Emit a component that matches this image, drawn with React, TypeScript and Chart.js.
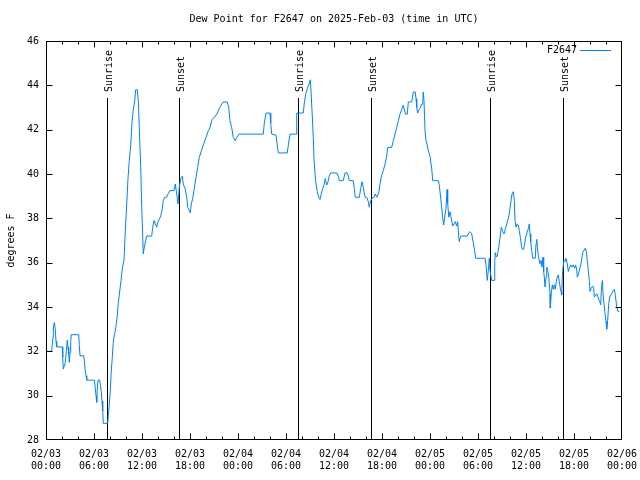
import React, { useEffect, useRef } from "react";
import { Chart, registerables } from "chart.js";

Chart.register(...registerables);

// Time in hours since 2025-02-03 00:00 UTC
const hours: number[] = [
  0, 0.71, 0.75, 0.88, 0.92, 1.04, 1.16, 1.25, 1.34, 2.04,
  2.09, 2.16, 2.25, 2.41, 2.54, 2.66, 2.75, 2.84, 2.91, 3.0,
  3.09, 3.16, 4.09, 4.16, 4.25, 4.71, 4.79, 4.88, 5.0, 5.09,
  6.04, 6.13, 6.25, 6.34, 6.41, 6.5, 6.71, 6.79, 6.91, 7.0,
  7.09, 7.16, 7.71, 7.79, 7.91, 8.04, 8.16, 8.29, 8.41, 8.54,
  8.66, 8.79, 8.91, 9.04, 9.38, 9.56, 9.75, 9.91, 10.09, 10.25,
  10.41, 10.59, 10.75, 10.91, 11.09, 11.21, 11.41, 11.54, 11.66, 11.84,
  11.96, 12.09, 12.16, 12.29, 12.46, 12.59, 13.21, 13.34, 13.5, 13.66,
  13.84, 13.96, 14.16, 14.34, 14.5, 14.66, 14.84, 15.09, 15.25, 15.5,
  16.0, 16.16, 16.34, 16.5, 16.66, 16.84, 17.04, 17.16, 17.38, 17.59,
  17.71, 17.91, 18.04, 18.16, 18.34, 18.54, 18.75, 18.96, 19.16, 19.38,
  19.66, 20.0, 20.29, 20.5, 20.75, 21.13, 21.34, 21.66, 21.88, 22.16,
  22.66, 22.84, 23.0, 23.21, 23.41, 23.63, 23.84, 24.13, 27.16, 27.29,
  27.5, 28.0, 28.09, 28.21, 28.75, 28.91, 29.04, 30.16, 30.29, 30.5,
  31.25, 31.34, 32.16, 32.29, 32.46, 32.66, 32.88, 33.04, 33.13, 33.29,
  33.41, 33.5, 33.63, 33.75, 33.91, 34.09, 34.25, 34.41, 34.59, 34.75,
  34.91, 35.09, 35.25, 35.41, 35.59, 36.34, 36.54, 36.66, 37.16, 37.38,
  37.66, 37.79, 37.91, 38.41, 38.54, 38.66, 39.16, 39.34, 39.5, 39.66,
  39.88, 40.09, 40.29, 40.41, 40.59, 40.75, 41.0, 41.16, 41.34, 41.59,
  41.75, 41.96, 42.16, 42.38, 42.59, 42.71, 43.21, 43.41, 43.63, 43.84,
  44.04, 44.25, 44.46, 44.66, 44.79, 44.96, 45.16, 45.29, 45.71, 45.91,
  46.16, 46.25, 46.34, 46.46, 46.59, 46.75, 46.96, 47.09, 47.16, 47.25,
  47.38, 47.5, 47.66, 47.79, 48.0, 48.21, 48.34, 49.04, 49.16, 49.34,
  49.46, 49.59, 49.71, 49.88, 50.0, 50.13, 50.21, 50.34, 50.5, 50.63,
  50.84, 51.0, 51.16, 51.34, 51.46, 51.59, 51.66, 51.84, 52.66, 52.84,
  53.0, 53.21, 53.41, 53.59, 53.71, 54.88, 55.0, 55.16, 55.29, 55.41,
  55.5, 55.71, 56.0, 56.09, 56.16, 56.29, 56.41, 56.59, 56.75, 56.91,
  57.09, 57.25, 57.41, 57.59, 57.75, 57.91, 58.09, 58.25, 58.41, 58.54,
  58.63, 58.75, 58.88, 59.04, 59.16, 59.29, 59.41, 59.54, 59.71, 59.84,
  59.96, 60.09, 60.21, 60.34, 60.41, 60.5, 60.59, 60.71, 60.84, 61.16,
  61.25, 61.34, 61.41, 61.54, 61.66, 61.75, 61.88, 62.0, 62.13, 62.21,
  62.29, 62.38, 62.5, 62.59, 62.71, 62.84, 62.91, 63.0, 63.04, 63.16,
  63.29, 63.41, 63.54, 63.66, 63.79, 63.91, 64.04, 64.16, 64.29, 64.38,
  64.46, 64.54, 64.63, 64.75, 64.88, 65.0, 65.16, 65.29, 65.41, 65.59,
  65.75, 65.91, 66.09, 66.21, 66.34, 66.41, 66.54, 66.66, 66.84, 66.96,
  67.09, 67.25, 67.41, 67.54, 67.66, 67.79, 67.91, 68.0, 68.16, 68.34,
  68.46, 68.54, 68.66, 68.84, 68.96, 69.09, 69.21, 69.34, 69.41, 69.54,
  69.63, 69.75, 69.88, 70.0, 70.09, 70.21, 70.34, 70.46, 70.63, 70.79,
  70.91, 71.04, 71.16, 71.34, 71.5, 71.66,
];

// Dew point, degrees F
const dewPointF: number[] = [
  32.0, 32.0, 32.2, 32.65, 33.05, 33.3, 33.0, 32.45, 32.2, 32.2,
  31.75, 31.2, 31.3, 31.5, 32.0, 32.5, 32.2, 31.85, 31.5, 31.95,
  32.45, 32.75, 32.75, 32.3, 31.8, 31.8, 31.6, 31.2, 30.9, 30.7,
  30.7, 30.45, 30.0, 29.7, 30.3, 30.7, 30.7, 30.5, 30.2, 29.75,
  29.3, 28.75, 28.75, 29.1, 29.6, 30.25, 31.1, 31.75, 32.4, 32.75,
  32.9, 33.25, 33.6, 34.2, 35.2, 35.8, 36.1, 37.4, 38.65, 39.8,
  40.6, 41.3, 42.35, 42.9, 43.3, 43.8, 43.8, 43.3, 42.1, 40.3,
  38.6, 37.15, 36.4, 36.7, 37.0, 37.2, 37.2, 37.6, 37.9, 37.75,
  37.6, 37.8, 37.95, 38.1, 38.35, 38.8, 38.95, 38.95, 39.1, 39.25,
  39.25, 39.55, 39.1, 38.65, 39.4, 39.8, 39.9, 39.55, 39.35, 38.95,
  38.5, 38.35, 38.25, 38.65, 38.9, 39.35, 39.85, 40.3, 40.75, 41.0,
  41.3, 41.65, 41.95, 42.1, 42.45, 42.6, 42.7, 42.95, 43.1, 43.25,
  43.25, 43.0, 42.4, 42.1, 41.65, 41.5, 41.65, 41.8, 41.8, 42.3,
  42.75, 42.75, 42.3, 41.8, 41.75, 41.3, 40.95, 40.95, 41.3, 41.8,
  41.8, 42.75, 42.75, 43.2, 43.6, 43.85, 44.05, 44.25, 43.7, 42.6,
  41.65, 40.7, 40.0, 39.55, 39.2, 38.95, 38.85, 39.1, 39.35, 39.5,
  39.8, 39.5, 39.65, 39.9, 40.05, 40.05, 39.9, 39.7, 39.7, 40.05,
  40.05, 39.9, 39.7, 39.7, 39.35, 38.95, 38.95, 39.35, 39.65, 39.4,
  38.95, 38.95, 38.75, 38.5, 38.8, 38.9, 38.95, 39.1, 38.95, 39.15,
  39.55, 39.95, 40.15, 40.45, 40.8, 41.2, 41.2, 41.5, 41.8, 42.1,
  42.4, 42.7, 42.9, 43.1, 42.9, 42.7, 42.7, 43.25, 43.25, 43.7,
  43.7, 43.4, 43.0, 42.75, 42.9, 42.95, 43.15, 43.15, 43.7, 43.3,
  41.95, 41.5, 41.3, 41.05, 40.8, 40.25, 39.7, 39.7, 39.5, 38.9,
  38.5, 38.0, 37.7, 38.15, 38.45, 39.3, 38.7, 38.05, 38.3, 38.05,
  37.65, 37.75, 37.85, 37.65, 37.85, 37.15, 36.95, 37.2, 37.2, 37.35,
  37.4, 37.3, 36.9, 36.5, 36.2, 36.2, 35.9, 35.2, 35.65, 36.2,
  35.65, 35.2, 35.2, 36.05, 36.45, 36.25, 36.3, 36.7, 37.1, 37.6,
  37.4, 37.3, 37.5, 37.75, 37.95, 38.2, 38.7, 39.1, 39.2, 38.8,
  37.9, 37.6, 37.75, 37.7, 37.45, 37.15, 36.8, 36.6, 36.6, 36.85,
  37.15, 37.3, 37.45, 37.6, 37.75, 37.3, 36.95, 36.55, 36.2, 36.2,
  36.85, 37.05, 36.75, 36.3, 36.1, 35.95, 36.1, 35.8, 36.25, 35.6,
  35.35, 34.9, 35.35, 35.8, 35.65, 35.35, 35.05, 34.6, 33.95, 34.6,
  35.0, 34.8, 35.0, 34.8, 35.15, 35.35, 35.45, 35.15, 34.85, 34.7,
  34.55, 35.35, 35.8, 36.1, 36.05, 36.2, 35.95, 35.6, 35.75, 35.9,
  35.8, 35.9, 35.75, 35.9, 35.65, 35.35, 35.45, 35.65, 35.9, 36.15,
  36.45, 36.55, 36.65, 36.5, 36.1, 35.65, 35.2, 34.7, 34.85, 34.95,
  34.85, 34.45, 34.5, 34.6, 34.5, 34.35, 34.25, 34.1, 34.7, 35.2,
  34.6, 34.15, 33.7, 33.35, 33.0, 33.4, 34.15, 34.45, 34.55, 34.65,
  34.75, 34.8, 34.55, 34.0, 33.8, 33.8,
];

// Sunrise / sunset markers (hours since start)
const eventHours: number[] = [7.62, 16.66, 31.54, 40.66, 55.54, 64.66];
const eventLabels: string[] = ["Sunrise", "Sunset", "Sunrise", "Sunset", "Sunrise", "Sunset"];

// X tick labels every 6 hours
const xTickLabels: string[][] = [
  ["02/03", "00:00"], ["02/03", "06:00"], ["02/03", "12:00"], ["02/03", "18:00"],
  ["02/04", "00:00"], ["02/04", "06:00"], ["02/04", "12:00"], ["02/04", "18:00"],
  ["02/05", "00:00"], ["02/05", "06:00"], ["02/05", "12:00"], ["02/05", "18:00"],
  ["02/06", "00:00"],
];

const titleText = "Dew Point for F2647 on 2025-Feb-03 (time in UTC)";
const seriesName = "F2647";
const yTitle = "degrees F";

const FONT = "'DejaVu Sans Mono', 'Liberation Mono', monospace";
const LINE_COLOR = "rgb(0,128,255)";

const decorPlugin = {
  id: "gnuplotDecor",
  beforeDatasetsDraw(chart: any) {
    const { ctx, chartArea, scales } = chart;
    const { top, bottom } = chartArea;
    const h = bottom - top;
    ctx.save();
    ctx.strokeStyle = "#000";
    ctx.lineWidth = 1;
    ctx.fillStyle = "#000";
    ctx.font = `10px ${FONT}`;
    eventHours.forEach((eh, i) => {
      const px = Math.round(scales.x.getPixelForValue(eh)) + 0.5;
      const lineTop = Math.round(bottom - 0.857 * h);
      ctx.beginPath();
      ctx.moveTo(px, lineTop);
      ctx.lineTo(px, bottom);
      ctx.stroke();
      ctx.save();
      ctx.translate(px + 1.5, bottom - 0.872 * h);
      ctx.rotate(-Math.PI / 2);
      ctx.textAlign = "left";
      ctx.textBaseline = "middle";
      ctx.fillText(eventLabels[i], 0, 0);
      ctx.restore();
    });
    ctx.restore();
  },
  afterDraw(chart: any) {
    const { ctx, chartArea, scales } = chart;
    const { left, right, top, bottom } = chartArea;
    const L = Math.round(left) + 0.5;
    const R = Math.round(right) - 0.5;
    const T = Math.round(top) + 0.5;
    const B = Math.round(bottom) - 0.5;
    ctx.save();
    ctx.strokeStyle = "#000";
    ctx.lineWidth = 1;
    ctx.beginPath();
    // x ticks (major every 6h, minor every 2h), inward, bottom and top
    const xs = scales.x;
    for (let t = xs.min; t <= xs.max; t += 2) {
      const len = t % 6 === 0 ? 6 : 3;
      const px = Math.min(R, Math.max(L, Math.round(xs.getPixelForValue(t)) + 0.5));
      ctx.moveTo(px, B);
      ctx.lineTo(px, B - len);
      ctx.moveTo(px, T);
      ctx.lineTo(px, T + len);
    }
    // y ticks inward, left and right
    const ys = scales.y;
    for (let v = ys.min; v <= ys.max; v += 2) {
      const py = Math.min(B, Math.max(T, Math.round(ys.getPixelForValue(v)) + 0.5));
      ctx.moveTo(L, py);
      ctx.lineTo(L + 6, py);
      ctx.moveTo(R, py);
      ctx.lineTo(R - 6, py);
    }
    ctx.stroke();
    ctx.strokeRect(L, T, R - L, B - T);

    // title
    ctx.fillStyle = "#000";
    ctx.font = `10px ${FONT}`;
    ctx.textAlign = "center";
    ctx.textBaseline = "middle";
    ctx.fillText(titleText, (left + right) / 2, 19);

    // legend
    ctx.textAlign = "right";
    ctx.fillText(seriesName, right - 45, top + 9);
    ctx.strokeStyle = LINE_COLOR;
    ctx.beginPath();
    ctx.moveTo(right - 42, Math.round(top + 9) + 0.5);
    ctx.lineTo(right - 11, Math.round(top + 9) + 0.5);
    ctx.stroke();
    ctx.restore();
  },
};

export default function App() {
  const canvasRef = useRef<HTMLCanvasElement | null>(null);

  useEffect(() => {
    if (!canvasRef.current) return;
    const points = hours.map((h, i) => ({ x: h, y: dewPointF[i] }));
    const chart = new Chart(canvasRef.current, {
      type: "line",
      data: {
        datasets: [
          {
            label: seriesName,
            data: points,
            borderColor: LINE_COLOR,
            backgroundColor: LINE_COLOR,
            borderWidth: 1,
            pointRadius: 0,
            tension: 0,
            fill: false,
          },
        ],
      },
      options: {
        responsive: false,
        animation: false,
        maintainAspectRatio: false,
        layout: { padding: { top: 41, right: 18, left: 0, bottom: 0 } },
        plugins: {
          legend: { display: false },
          title: { display: false },
          tooltip: { enabled: false },
        },
        scales: {
          x: {
            type: "linear",
            min: 0,
            max: 72,
            grid: { display: false, drawTicks: false },
            border: { display: false },
            afterFit: (s: any) => {
              s.height = 40;
              s.paddingLeft = 0;
              s.paddingRight = 0;
            },
            ticks: {
              stepSize: 6,
              autoSkip: false,
              maxRotation: 0,
              minRotation: 0,
              padding: 8,
              color: "#000",
              font: { family: FONT, size: 10, lineHeight: 1.2 },
              callback: (value: any) => {
                const idx = Math.round(Number(value) / 6);
                return xTickLabels[idx] ?? "";
              },
            },
          },
          y: {
            type: "linear",
            min: 28,
            max: 46,
            grid: { display: false, drawTicks: false },
            border: { display: false },
            afterFit: (s: any) => {
              s.width = 46;
              s.paddingTop = 0;
              s.paddingBottom = 0;
            },
            title: {
              display: true,
              text: yTitle,
              color: "#000",
              font: { family: FONT, size: 10, lineHeight: 1.2 },
              padding: { top: 5, bottom: 0 },
            },
            ticks: {
              stepSize: 2,
              padding: 7,
              color: "#000",
              font: { family: FONT, size: 10 },
            },
          },
        },
      },
      plugins: [decorPlugin],
    });
    return () => chart.destroy();
  }, []);

  return (
    <div style={{ position: "absolute", left: 0, top: 0, width: 640, height: 480, background: "#fff" }}>
      <canvas ref={canvasRef} width={640} height={480} />
    </div>
  );
}
